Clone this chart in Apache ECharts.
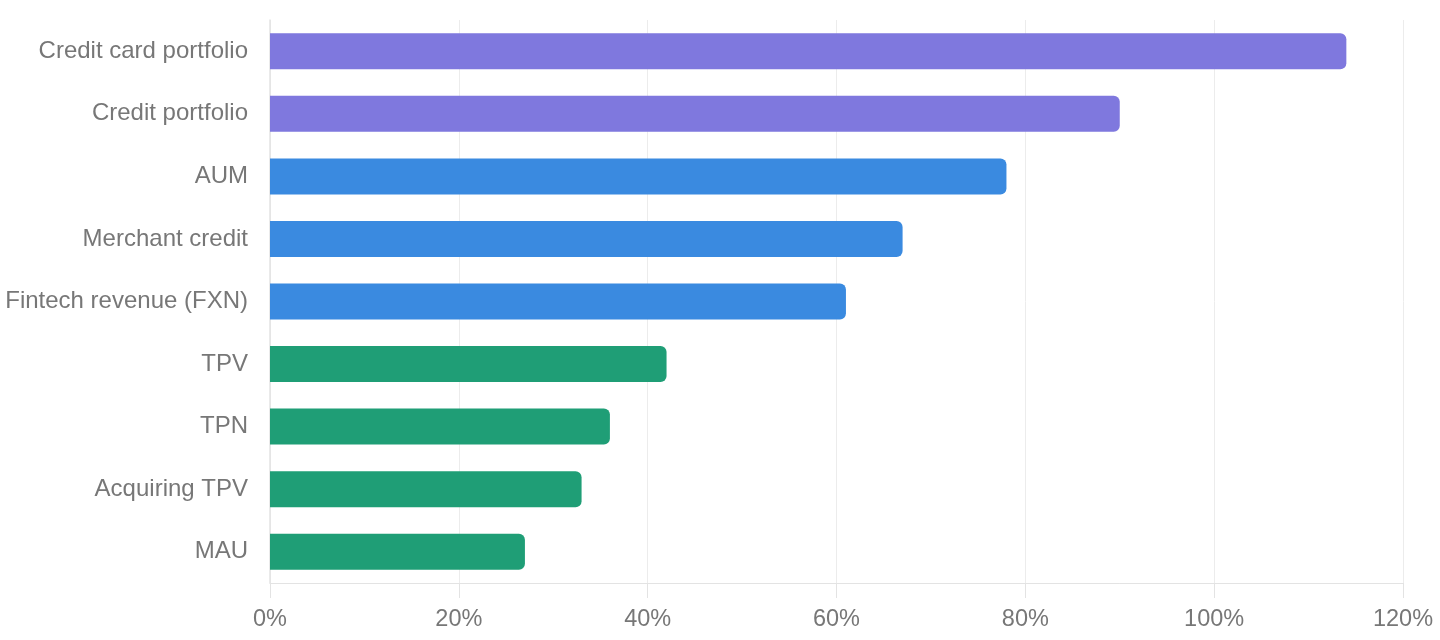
<!DOCTYPE html>
<html lang="en">
<head>
<meta charset="UTF-8">
<script src="https://cdn.jsdelivr.net/npm/echarts@6/dist/echarts.min.js"></script>
<style>
  html, body { margin: 0; padding: 0; background: #fff; }
  #chart { width: 1440px; height: 640px; }
</style>
</head>
<body>
<div id="chart"></div>
<script>
var categories = ['Credit card portfolio', 'Credit portfolio', 'AUM', 'Merchant credit',
  'Fintech revenue (FXN)', 'TPV', 'TPN', 'Acquiring TPV', 'MAU'];
var values = [114, 90, 78, 67, 61, 42, 36, 33, 27];
var groups = ['credit', 'credit', 'fintech', 'fintech', 'fintech', 'payments', 'payments', 'payments', 'payments'];
var xTicks = [0, 20, 40, 60, 80, 100, 120];

var groupColors = { credit: '#7f78de', fintech: '#3a8ae0', payments: '#1f9e76' };

var seriesData = [];
for (var i = 0; i < values.length; i++) {
  seriesData.push({ value: values[i], itemStyle: { color: groupColors[groups[i]] } });
}

var chart = echarts.init(document.getElementById('chart'));
chart.setOption({
  animation: false,
  grid: { left: 270, right: 37, top: 20, bottom: 57, containLabel: false },
  xAxis: {
    type: 'value',
    min: xTicks[0],
    max: xTicks[xTicks.length - 1],
    interval: 20,
    axisLine: { show: true, lineStyle: { color: '#e3e3e3' } },
    axisTick: { show: true, length: 15, lineStyle: { color: '#e3e3e3' } },
    splitLine: { show: true, lineStyle: { color: '#ececec' } },
    axisLabel: {
      formatter: '{value}%',
      fontSize: 23.5,
      color: '#777777',
      fontFamily: 'Liberation Sans, Arial, sans-serif',
      margin: 25
    }
  },
  yAxis: {
    type: 'category',
    inverse: true,
    data: categories,
    axisLine: { show: true, lineStyle: { color: '#e3e3e3', width: 1.5 } },
    axisTick: { show: false },
    axisLabel: {
      fontSize: 24,
      color: '#777777',
      fontFamily: 'Liberation Sans, Arial, sans-serif',
      margin: 22
    }
  },
  series: [{
    type: 'bar',
    data: seriesData,
    barWidth: 36,
    itemStyle: { borderRadius: [0, 6, 6, 0] }
  }]
});
</script>
</body>
</html>
